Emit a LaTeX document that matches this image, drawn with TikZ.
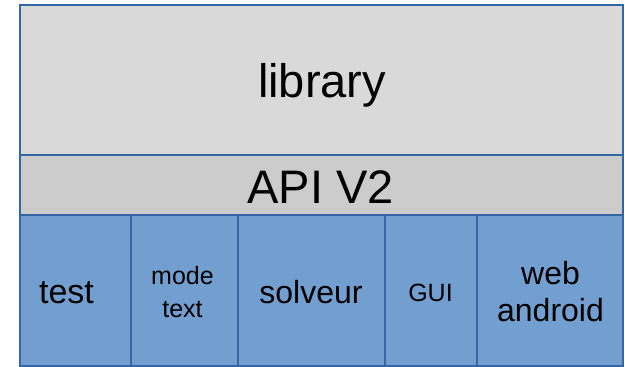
\documentclass[tikz,border=0pt]{standalone}
\usepackage{fontspec}
\setmainfont{Liberation Sans}
\definecolor{edgeblue}{HTML}{3465A4}
\definecolor{libfill}{HTML}{D9D9D9}
\definecolor{apifill}{HTML}{CCCCCC}
\definecolor{modfill}{HTML}{729FCF}
\tikzset{
  blk/.style={draw=edgeblue, line width=1.5pt, anchor=north west, inner sep=0pt, outer sep=0pt},
  big/.style={font=\fontsize{47}{54}\selectfont, anchor=base, inner sep=0pt},
  mid/.style={font=\fontsize{32}{37}\selectfont, anchor=base, inner sep=0pt, align=center},
  small/.style={font=\fontsize{25}{33}\selectfont, anchor=base, inner sep=0pt, align=center},
}
\begin{document}
\begin{tikzpicture}[x=1pt,y=-1pt]
\useasboundingbox (0,0) rectangle (625,367);
\node[blk, fill=libfill, minimum width=603pt, minimum height=150pt] (lib) at (20,5) {};
\node[blk, fill=apifill, minimum width=603pt, minimum height=60pt] (api) at (20,155) {};
\node[blk, fill=modfill, minimum width=111pt, minimum height=151pt] (btest) at (20,215) {};
\node[blk, fill=modfill, minimum width=107pt, minimum height=151pt] (bmode) at (131,215) {};
\node[blk, fill=modfill, minimum width=147pt, minimum height=151pt] (bsolv) at (238,215) {};
\node[blk, fill=modfill, minimum width=92pt, minimum height=151pt] (bgui) at (385,215) {};
\node[blk, fill=modfill, minimum width=146pt, minimum height=151pt] (bweb) at (477,215) {};
\node[big] (tlib) at (322,97) {library};
\node[big] (tapi) at (320.5,203) {API V2};
\node[mid, font=\fontsize{34}{39}\selectfont] (ttest) at (66.5,303) {test};
\node[small] (tmode) at (182.5,317.5) {mode\\text};
\node[mid] (tsolv) at (311,303) {solveur};
\node[font=\fontsize{25}{30}\selectfont, anchor=base, inner sep=0pt] (tgui) at (430.5,301) {GUI};
\node[mid] (tweb) at (550.5,321.5) {web\\android};
\end{tikzpicture}
\end{document}
